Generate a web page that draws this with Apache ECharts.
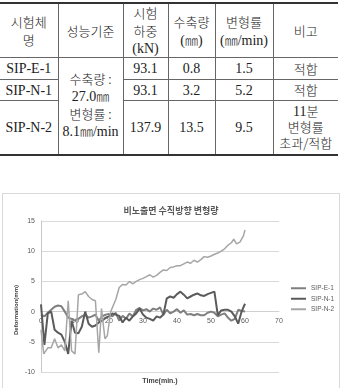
<!DOCTYPE html>
<html>
<head>
<meta charset="utf-8">
<script src="https://cdn.jsdelivr.net/npm/echarts@6/dist/echarts.min.js"></script>
<style>
body { margin:0; background:#fff; width:343px; height:388px; overflow:hidden; position:relative; }
#tbl { position:absolute; left:0; top:2px; width:338px; border-collapse:collapse; table-layout:fixed;
       font-family:"Liberation Serif","Noto Sans CJK KR",serif; font-size:14px; color:#222; }
#tbl td { border:1px solid #666; text-align:center; vertical-align:middle; padding:0; line-height:17px; }
#tbl tr td:first-child { border-left:none; }
#tbl tr td:last-child { border-right:none; }
#tbl tr:first-child td { border-top:2px solid #333; }
#tbl tr:last-child td, #tbl td.span { border-bottom:2px solid #333; }
#tbl td.span { line-height:16.5px; }
#tbl td.rm { line-height:15px; }
.k { font-family:"Noto Sans CJK KR",sans-serif; font-size:13px; font-weight:300; }
#chart { position:absolute; left:2px; top:193px; width:338px; height:200px; border:1px solid #d9d9d9; box-sizing:border-box; }
</style>
</head>
<body>
<table id="tbl">
<colgroup><col style="width:58px"><col style="width:65px"><col style="width:45px"><col style="width:47px"><col style="width:58px"><col style="width:65px"></colgroup>
<tbody id="tbody"></tbody>
</table>
<div id="chart"></div>
<script>
// 표 데이터
var specimens = ['SIP-E-1', 'SIP-N-1', 'SIP-N-2'];
var loads = ['93.1', '93.1', '137.9'];
var shrink = ['0.8', '3.2', '13.5'];
var rates = ['1.5', '5.2', '9.5'];
var remarks = ['<span class="k">적합</span>', '<span class="k">적합</span>', '11<span class="k">분<br>변형률<br>초과/적합</span>'];
var criteria = '<span class="k">수축량 :</span><br>27.0<span class="k">㎜</span><br><span class="k">변형률 :</span><br>8.1<span class="k">㎜</span>/min';
var rowHeights = [22, 21, 54];

// 그래프 데이터
var minutes = [0,1,2,3,4,5,6,7,8,9,10,11,12,13,14,15,16,17,18,19,20,21,22,23,24,25,26,27,28,29,30,
               31,32,33,34,35,36,37,38,39,40,41,42,43,44,45,46,47,48,49,50,51,52,53,54,55,56,57,58,59,60];
var sipE1 = [-0.5,-0.8,-0.2,0.3,0.8,1.0,0.9,0.0,-1.0,-1.2,-1.5,-1.2,-0.8,-0.5,-1.0,-0.8,-0.5,-1.5,-0.8,-0.5,-0.4,
             -0.8,-0.2,-1.5,-0.7,-1.2,-0.3,-0.8,0.3,0.6,0.2,0.4,0.0,0.5,0.3,0.7,-0.5,0.3,-0.3,0.0,0.4,
             -0.2,0.2,-0.5,-0.4,-0.6,-0.4,-0.6,-0.6,-0.2,0.0,-0.2,-0.8,-0.5,-0.3,-1.0,-1.5,-1.2,0.3,0.1,0.0];
var sipN1 = [1.2,-5.5,-0.3,0.0,-3.0,-3.5,-3.8,-5.0,-7.0,-1.5,-3.5,-3.6,-2.5,0.0,-2.0,-2.5,-2.3,-1.8,-1.5,-1.0,-0.8,
             -0.3,-0.5,-0.7,-1.8,-1.0,-1.5,-0.8,-0.3,0.5,-0.5,-1.0,-1.2,-1.5,-0.8,-1.0,-0.5,2.2,2.5,2.3,2.9,
             3.3,2.8,2.2,2.5,2.8,3.0,2.7,2.6,2.9,3.1,3.3,-0.6,0.2,0.3,0.3,0.0,-0.8,-2.0,0.0,1.3];
var timeN2 = [0,0.8,2,3,4,5,6,7,8,9,10,11,12,13,14,15,16,17,17.8,18.8,19.5,20.5,22,23,24,25,26,27,28,29,30,
              31,32,33,34,35,36,37,38,39,40,41,42,43,44,45,46,47,48,49,50,51,52,53,54,55,56,56.7,57.5,58.5,59.5,60];
var sipN2 = [-3,-7,-6,-6,-4.5,-6,-5.5,-6.5,1.8,-6.5,-7,2.8,2.9,3.3,2.5,2,1.8,-6.8,0.5,-4.5,-4,0,2,4,4.5,4.4,5,4.6,5,5.3,5.5,
             5.8,6.1,5.7,6,6.5,6.9,6.8,7.3,7.4,7.6,7.6,7.9,8.2,8,8.5,8.2,8.6,9.1,9,9.2,9.5,9.7,10,10.4,11,11.4,12,11.2,11.5,12.5,13.5];
var yTicks = [-10, -5, 0, 5, 10, 15];

function buildTable() {
    var html = '';
    html += '<tr style="height:54px"><td><span class="k">시험체<br>명</span></td><td><span class="k">성능기준</span></td>' +
            '<td><span class="k">시험<br>하중</span><br>(kN)</td><td><span class="k">수축량</span><br>(<span class="k">㎜</span>)</td>' +
            '<td><span class="k">변형률</span><br>(<span class="k">㎜</span>/min)</td><td><span class="k">비고</span></td></tr>';
    for (var i = 0; i < specimens.length; i++) {
        html += '<tr style="height:' + rowHeights[i] + 'px"><td>' + specimens[i] + '</td>';
        if (i == 0) {
            html += '<td rowspan="3" class="span">' + criteria + '</td>';
        }
        html += '<td>' + loads[i] + '</td><td>' + shrink[i] + '</td><td>' + rates[i] + '</td><td class="rm">' + remarks[i] + '</td></tr>';
    }
    document.getElementById('tbody').innerHTML = html;
}

function pairs(xs, ys) {
    var out = [];
    for (var i = 0; i < xs.length; i++) {
        out.push([xs[i], ys[i]]);
    }
    return out;
}

buildTable();

var gridH = 151;
var yMin = yTicks[0], yMax = yTicks[yTicks.length - 1];
// x축을 0 위치로 올림
var zeroOffset = -gridH * (0 - yMin) / (yMax - yMin);

var chart = echarts.init(document.getElementById('chart'));
chart.setOption({
    animation: false,
    textStyle: { fontFamily: 'Liberation Sans, Noto Sans CJK KR, sans-serif' },
    title: {
        text: '비노출면 수직방향 변형량',
        left: 'center',
        top: 7,
        textStyle: { fontSize: 9, fontWeight: 'bold', color: '#595959', fontFamily: 'Noto Sans CJK KR' }
    },
    legend: {
        orient: 'vertical',
        left: 288,
        top: 91,
        padding: 0,
        icon: 'rect',
        itemWidth: 15,
        itemHeight: 2,
        itemGap: 4,
        textStyle: { fontSize: 6.5, color: '#595959', overflow: 'none' },
        data: ['SIP-E-1', 'SIP-N-1', 'SIP-N-2']
    },
    grid: { left: 38, top: 27, width: 238, height: gridH, outerBoundsMode: 'none' },
    xAxis: {
        type: 'value',
        position: 'bottom',
        offset: zeroOffset,
        min: 0,
        max: 70,
        interval: 10,
        name: 'Time(min.)',
        nameLocation: 'middle',
        nameGap: 66,
        nameTextStyle: { fontSize: 7, fontWeight: 'bold', color: '#404040' },
        axisLine: { show: true, onZero: false, lineStyle: { color: '#d0d0d0' } },
        axisTick: { show: false },
        axisLabel: { fontSize: 7, color: '#595959', margin: 6 },
        splitLine: { show: false }
    },
    yAxis: {
        type: 'value',
        min: yMin,
        max: yMax,
        interval: 5,
        axisLine: { show: true, onZero: false, lineStyle: { color: '#c8c8c8' } },
        axisTick: { show: false },
        axisLabel: { fontSize: 7, color: '#595959', margin: 6 },
        splitLine: { lineStyle: { color: '#d9d9d9' } }
    },
    graphic: [{
        type: 'text',
        x: 13,
        y: 116,
        rotation: Math.PI / 2,
        style: { text: 'Deformation(mm)', fontSize: 6, fontWeight: 'bold', fill: '#404040',
                 fontFamily: 'Liberation Sans', textAlign: 'center', textVerticalAlign: 'middle' }
    }],
    series: [{
        name: 'SIP-E-1',
        type: 'line',
        symbol: 'none',
        lineStyle: { width: 2, color: '#7f7f7f' },
        itemStyle: { color: '#7f7f7f' },
        data: pairs(minutes, sipE1)
    }, {
        name: 'SIP-N-1',
        type: 'line',
        symbol: 'none',
        lineStyle: { width: 2, color: '#5a5a5a' },
        itemStyle: { color: '#5a5a5a' },
        data: pairs(minutes, sipN1)
    }, {
        name: 'SIP-N-2',
        type: 'line',
        symbol: 'none',
        lineStyle: { width: 1.5, color: '#a6a6a6' },
        itemStyle: { color: '#a6a6a6' },
        data: pairs(timeN2, sipN2)
    }]
});
</script>
</body>
</html>
